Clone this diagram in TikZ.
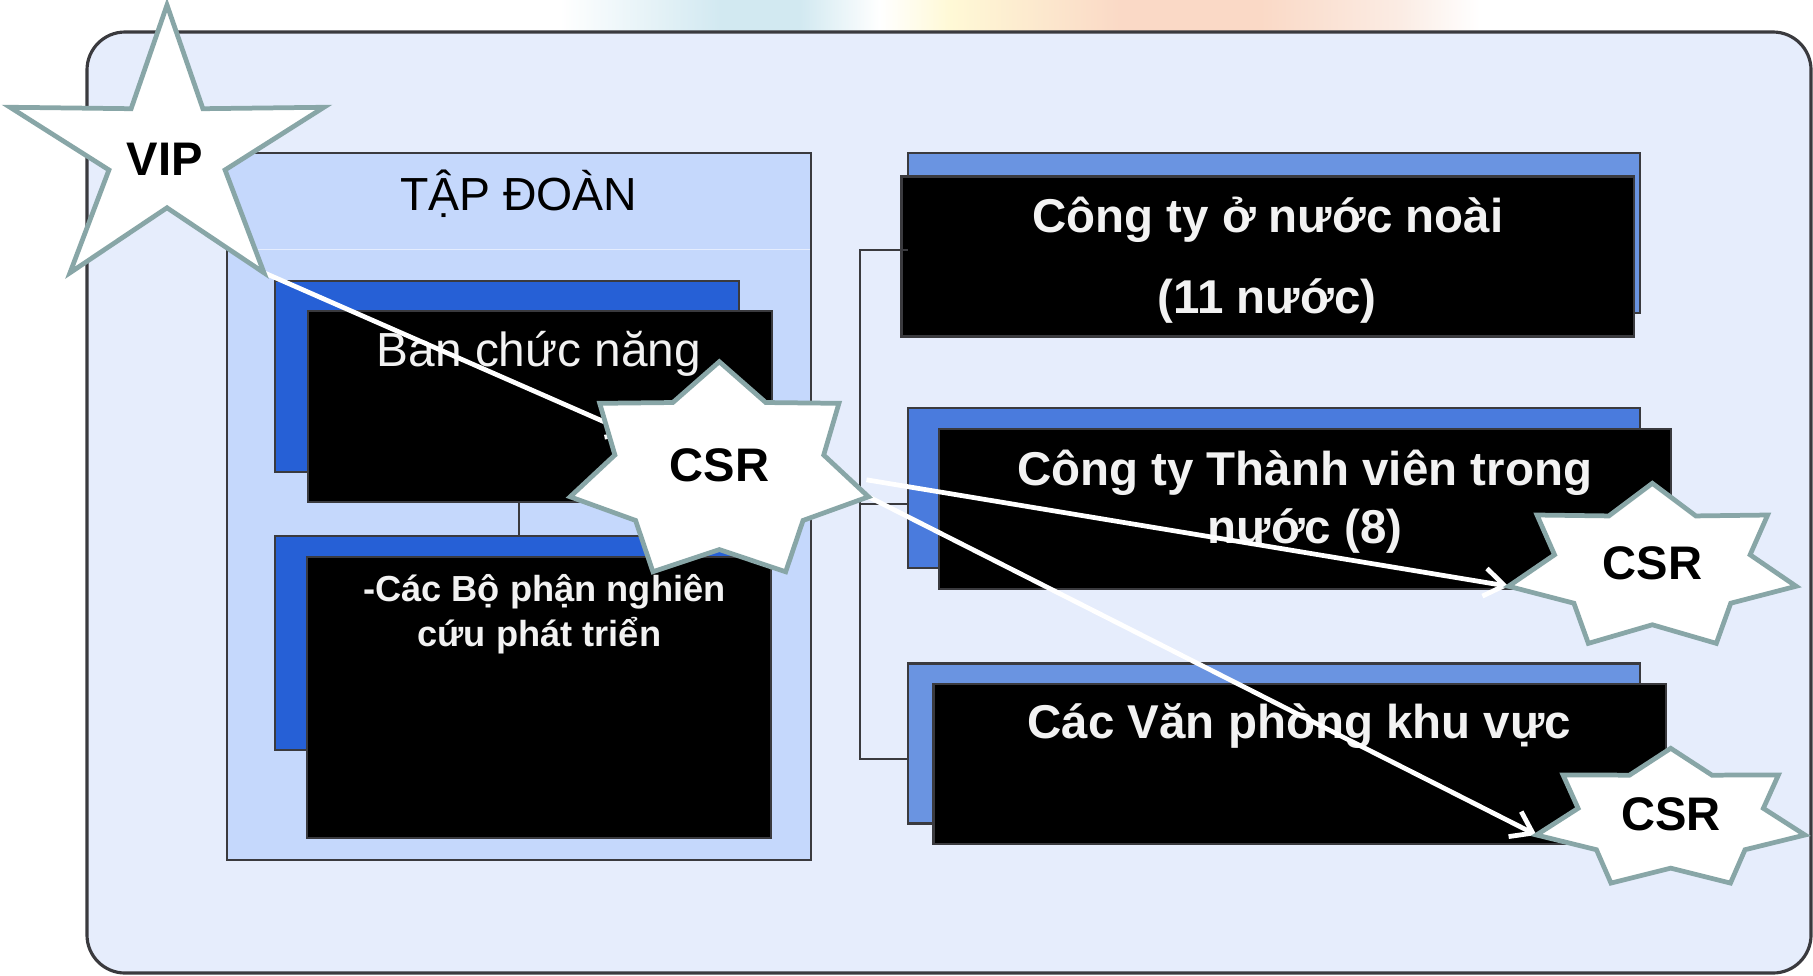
\documentclass[tikz,border=0pt]{standalone}
\usepackage{fontspec}
\setmainfont{Liberation Sans}
\usetikzlibrary{calc,arrows.meta}
\pgfdeclarelayer{front}
\pgfsetlayers{main,front}

\definecolor{slidefill}{RGB}{230,237,252}
\definecolor{panelfill}{RGB}{197,216,252}
\definecolor{deepblue}{RGB}{38,96,214}
\definecolor{midblue}{RGB}{74,123,221}
\definecolor{paleblue}{RGB}{106,148,225}
\definecolor{boxline}{RGB}{58,58,62}
\definecolor{starrim}{RGB}{136,166,167}
\definecolor{txtwhite}{RGB}{242,242,242}
\definecolor{bandcyan}{RGB}{210,233,241}
\definecolor{bandyellow}{RGB}{255,249,214}
\definecolor{bandpeach}{RGB}{250,217,198}
\definecolor{bandrose}{RGB}{251,236,228}

\newcommand{\starfont}{\fontsize{13.4pt}{16pt}\selectfont\bfseries}
\newcommand{\boxfont}{\fontsize{13.5pt}{16pt}\selectfont\bfseries}
\newcommand{\headfont}{\fontsize{13.2pt}{16pt}\selectfont}
\newcommand{\banfont}{\fontsize{13.6pt}{16pt}\selectfont}
\newcommand{\smallboxfont}{\fontsize{10.3pt}{12pt}\selectfont\bfseries}

% star: name, cx, cy, rx, ry, points, inner ratio
\newcommand{\csrstar}[7]{%
  \coordinate (#1) at ({#2},{#3});
  \pgfmathtruncatemacro{\lastk}{2*#6-1}
  \draw[starline] ({#2},{#3-#5}) coordinate (#1-0)
    \foreach \kk in {1,...,\lastk}{
      -- ({#2+#4*(1-(1-#7)*mod(\kk,2))*cos(90-\kk*180/#6)},
          {#3-#5*(1-(1-#7)*mod(\kk,2))*sin(90-\kk*180/#6)}) coordinate (#1-\kk)
    } -- cycle;
}

\begin{document}
\begin{tikzpicture}[x=0.01cm,y=-0.01cm,
  panel/.style={draw=boxline,fill=panelfill,line width=0.6pt,inner sep=0pt,outer sep=0pt},
  leftbox/.style={draw=boxline,fill=#1,line width=0.7pt,minimum width=4.64cm,inner sep=0pt,outer sep=0pt},
  rightbox/.style={draw=boxline,fill=#1,line width=0.7pt,minimum width=7.32cm,minimum height=1.6cm,inner sep=0pt,outer sep=0pt},
  tree/.style={draw=boxline,line width=0.7pt},
  link/.style={draw=white,line width=1.35pt,-{Straight Barb[length=0.2cm,width=0.28cm]}},
  starline/.style={draw=starrim,fill=white,line width=1.35pt},
  wtext/.style={text=txtwhite,anchor=base,inner sep=0pt},
  ktext/.style={text=black,anchor=base,inner sep=0pt}]
  \useasboundingbox (0,0) rectangle (1813,975);
  \fill[white] (0,0) rectangle (1813,975);
%%
  % Background band
  \shade[left color=white,right color=bandcyan] (560,0) rectangle (720,32);
  \fill[bandcyan] (720,0) rectangle (800,32);
  \shade[left color=bandcyan,right color=white] (800,0) rectangle (880,32);
  \shade[left color=white,right color=bandyellow] (880,0) rectangle (950,32);
  \shade[left color=bandyellow,right color=bandpeach] (950,0) rectangle (1120,32);
  \fill[bandpeach] (1120,0) rectangle (1260,32);
  \shade[left color=bandpeach,right color=bandrose] (1260,0) rectangle (1400,32);
  \shade[left color=bandrose,right color=white] (1400,0) rectangle (1480,32);
  % Slide frame
  \draw[boxline,fill=slidefill,line width=0.9pt,rounded corners=0.38cm] (87,32) rectangle (1811,973);
  % Node: doan
  \node[panel,minimum width=5.84cm,minimum height=7.07cm] (doan) at (519,506.5) {};
  \draw[white!55!panelfill,line width=0.4pt] (228,249.3) -- (810,249.3);
  \node[ktext,font=\headfont] (tDoan) at (518.7,210) {TẬP ĐOÀN};
  % Node: banBack, ban
  \node[leftbox=deepblue,minimum height=1.91cm] (banBack) at (507,376.5) {};
  \node[leftbox=black,minimum height=1.91cm] (ban) at (540,406.5) {};
  \node[wtext,font=\banfont] (tBan) at (539,366.7) {Ban chức năng};
  % Node: bpBack, bp
  \node[leftbox=deepblue,minimum height=2.14cm] (bpBack) at (507,643) {};
  \node[leftbox=black,minimum height=2.81cm] (bp) at (539,697.5) {};
  \node[wtext,font=\smallboxfont] (tBp1) at (544.4,601.7) {-Các Bộ phận nghiên};
  \node[wtext,font=\smallboxfont] (tBp2) at (539.4,646.7) {cứu phát triển};
  % Edge: ban -> bpBack
  \draw[tree] (ban.south -| doan.center) -- (bpBack.north -| doan.center);
  % Node: ngoaiBack, ngoai
  \node[rightbox=paleblue] (ngoaiBack) at (1274,233) {};
  \node[rightbox=black] (ngoai) at (1267.5,256.5) {};
  \node[wtext,font=\boxfont] (tNgoai1) at (1267.7,232.3) {Công ty ở nước noài};
  \node[wtext,font=\boxfont] (tNgoai2) at (1267,313) {(11 nước)};
  % Node: tvBack, tv
  \node[rightbox=midblue] (tvBack) at (1274,488) {};
  \node[rightbox=black] (tv) at (1305,509) {};
  \node[wtext,font=\boxfont] (tTv1) at (1304.5,485.5) {Công ty Thành viên trong};
  \node[wtext,font=\boxfont] (tTv2) at (1305,543) {nước (8)};
  % Node: vpBack, vp
  \node[rightbox=paleblue] (vpBack) at (1274,743.5) {};
  \node[rightbox=black] (vp) at (1299.5,764) {};
  \node[wtext,font=\boxfont] (tVp) at (1299.3,738.6) {Các Văn phòng khu vực};
  % Edge: bracket -> ngoaiBack, tvBack, vpBack
  \draw[tree] ([yshift=-0.17cm]ngoaiBack.west) -- ++(-48,0) |- ([yshift=-0.155cm]vpBack.west);
  \draw[tree] ([yshift=-0.16cm]tvBack.west) -- ++(-48,0);
  % Node: stars
\begin{pgfonlayer}{front}
  \csrstar{vip}{167}{153}{165}{148}{5}{0.37}
  \node[ktext,font=\starfont] (tVip) at (164.7,175.7) {VIP};
  \csrstar{csrMid}{719.3}{472.2}{153}{110.5}{7}{0.70}
  \node[ktext,font=\starfont] (tCsrMid) at (719.7,481.7) {CSR};
  \csrstar{csrTv}{1652.3}{567.5}{147.5}{84.2}{7}{0.68}
  \node[ktext,font=\starfont] (tCsrTv) at (1652.5,579.3) {CSR};
  \csrstar{csrVp}{1670.7}{819.2}{137.7}{70.9}{7}{0.69}
  \node[ktext,font=\starfont] (tCsrVp) at (1671,830) {CSR};
\end{pgfonlayer}
  % Edge: vip -> csrMid
  \draw[link,shorten >=0.95cm] (vip-4) -- (csrMid);
  % Edge: csrMid -> csrTv
  \draw[link] ($(csrMid-4)+(-2,-17)$) -- (csrTv-10);
  % Edge: csrMid -> csrVp
  \draw[link] (csrMid-4) -- (csrVp-10);
%
\end{tikzpicture}
\end{document}
